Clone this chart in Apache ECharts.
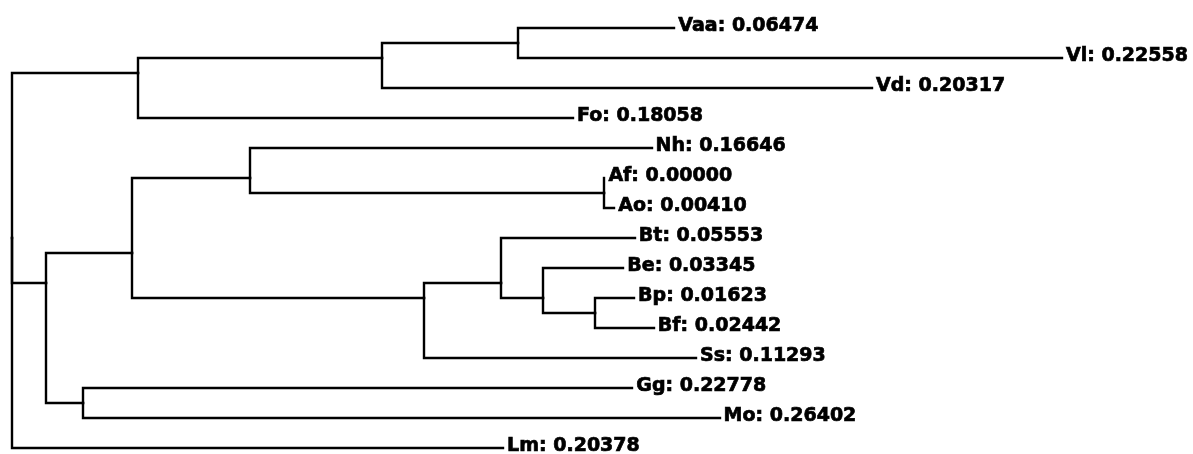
<!DOCTYPE html>
<html>
<head>
<meta charset="utf-8">
<title>Phylogenetic tree</title>
<script src="https://cdn.jsdelivr.net/npm/echarts@6/dist/echarts.min.js"></script>
<style>
  html, body { margin: 0; padding: 0; background: #fff; }
  #chart { width: 1193px; height: 454px; }
</style>
</head>
<body>
<div id="chart"></div>
<script>
// Leaves in drawing order (top to bottom) with their branch lengths
const leafNames = ['Vaa', 'Vl', 'Vd', 'Fo', 'Nh', 'Af', 'Ao', 'Bt', 'Be', 'Bp', 'Bf', 'Ss', 'Gg', 'Mo', 'Lm'];
const leafLengths = [0.06474, 0.22558, 0.20317, 0.18058, 0.16646, 0.00000, 0.00410,
                     0.05553, 0.03345, 0.01623, 0.02442, 0.11293, 0.22778, 0.26402, 0.20378];

// Tree topology: nested arrays of leaf indices
const topology = [[[[0, 1], 2], 3], [[[4, [5, 6]], [[7, [8, [9, 10]]], 11]], [12, 13]], 14];

// Branch lengths of the internal nodes, in pre-order (root excluded)
const nodeLengths = [0.0522, 0.1015, 0.0564, 0.0140, 0.0359, 0.0490, 0.1469,
                     0.1210, 0.0320, 0.0173, 0.0217, 0.0156];

// Walk the tree: x = cumulative branch length, y = mean of descendant leaf rows
const segments = [];
const leafPoints = [];
let nodeCounter = 0;

function layout(node, parentX, isRoot) {
  if (!Array.isArray(node)) {
    const x = parentX + leafLengths[node];
    leafPoints.push([x, node, leafNames[node], leafLengths[node]]);
    return { x: x, y: node, rows: [node] };
  }
  const len = isRoot ? 0 : nodeLengths[nodeCounter++];
  const x = parentX + len;
  const kids = [];
  let rows = [];
  node.forEach(function (child) {
    const k = layout(child, x, false);
    kids.push(k);
    rows = rows.concat(k.rows);
  });
  const y = rows.reduce(function (a, b) { return a + b; }, 0) / rows.length;
  kids.forEach(function (k) { segments.push([x, y, k.x, k.y]); });
  return { x: x, y: y, rows: rows };
}
layout(topology, 0, true);

const chart = echarts.init(document.getElementById('chart'), null, { renderer: 'canvas' });

chart.setOption({
  animation: false,
  backgroundColor: '#ffffff',
  grid: { left: 12, right: 96.5, top: 28, bottom: 6 },
  xAxis: { type: 'value', min: 0, max: 0.45, show: false },
  yAxis: { type: 'value', min: 0, max: 14, inverse: true, show: false },
  series: [
    {
      type: 'custom',
      clip: false,
      silent: true,
      data: segments,
      renderItem: function (params, api) {
        const p = api.coord([api.value(0), api.value(1)]);
        const c = api.coord([api.value(2), api.value(3)]);
        const px = Math.round(p[0]), py = Math.round(p[1]);
        const cx = Math.round(c[0]), cy = Math.round(c[1]);
        return {
          type: 'polyline',
          shape: { points: [[px, py], [px, cy], [cx, cy]] },
          style: { stroke: '#000', lineWidth: 2.4, fill: null, lineJoin: 'miter', lineCap: 'square' }
        };
      }
    },
    {
      type: 'scatter',
      clip: false,
      silent: true,
      symbolSize: 0,
      itemStyle: { opacity: 1 },
      data: leafPoints,
      label: {
        show: true,
        position: 'right',
        distance: 4,
        offset: [0, -2],
        opacity: 1,
        color: '#000',
        textBorderColor: '#000',
        textBorderWidth: 0.7,
        fontFamily: 'DejaVu Sans',
        fontWeight: 'bold',
        fontSize: 19,
        formatter: function (p) {
          return p.value[2] + ': ' + p.value[3].toFixed(5);
        }
      }
    }
  ]
});
</script>
</body>
</html>
